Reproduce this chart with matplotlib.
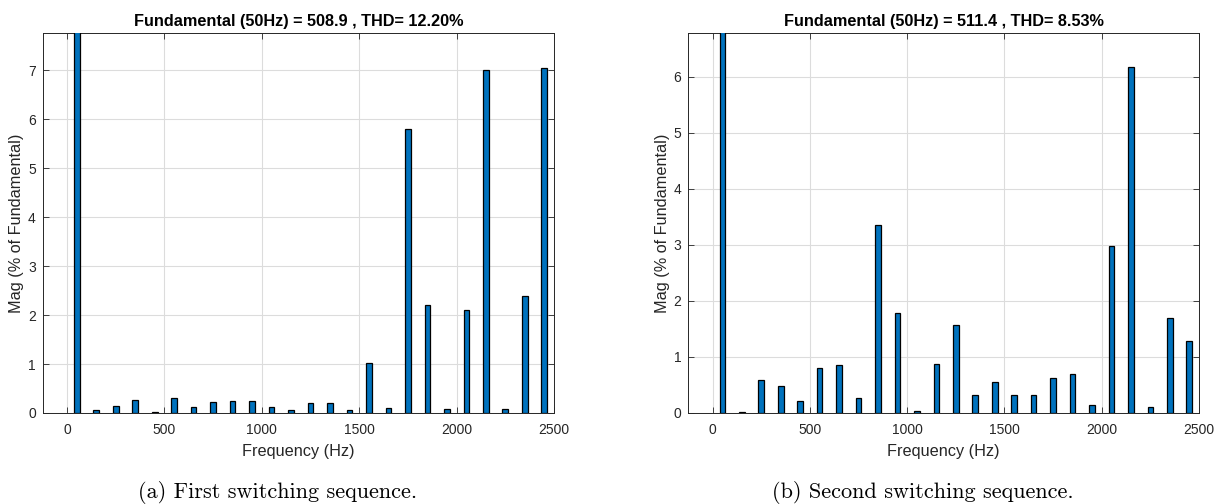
import numpy as np
import matplotlib
matplotlib.use('Agg')
import matplotlib.pyplot as plt

# harmonic frequencies (Hz) and magnitudes (% of fundamental)
freqs = [50, 150, 250, 350, 450, 550, 650, 750, 850, 950, 1050, 1150, 1250,
         1350, 1450, 1550, 1650, 1750, 1850, 1950, 2050, 2150, 2250, 2350, 2450]
mag_a = [100, 0.06, 0.14, 0.27, 0.03, 0.31, 0.13, 0.22, 0.25, 0.24, 0.13, 0.06, 0.21,
         0.20, 0.06, 1.02, 0.10, 5.80, 2.20, 0.09, 2.10, 7.00, 0.09, 2.39, 7.05]
mag_b = [100, 0.02, 0.59, 0.48, 0.22, 0.80, 0.86, 0.27, 3.36, 1.79, 0.04, 0.88, 1.58,
         0.33, 0.55, 0.33, 0.33, 0.62, 0.70, 0.14, 2.99, 6.17, 0.11, 1.69, 1.28]

titles = ['Fundamental (50Hz) = 508.9 , THD= 12.20%',
          'Fundamental (50Hz) = 511.4 , THD= 8.53%']
captions = ['(a) First switching sequence.', '(b) Second switching sequence.']
ymax = [7.76, 6.78]
yticks = [range(0, 8), range(0, 7)]

plt.rcParams['font.family'] = ['Liberation Sans', 'DejaVu Sans']
W, H = 1225, 504
fig = plt.figure(figsize=(W / 100, H / 100), dpi=100)

# axes boxes in pixels: left, right
boxes = [(42.7, 554.0), (688.3, 1199.0)]
top, bottom = 33.3, 413.0
cap_x = [278, 923]

for i, mags in enumerate([mag_a, mag_b]):
    x0, x1 = boxes[i]
    ax = fig.add_axes([x0 / W, 1 - bottom / H, (x1 - x0) / W, (bottom - top) / H])
    ax.bar(freqs, mags, width=29, color='#0072BD', edgecolor='black', linewidth=0.9, zorder=3)
    ax.set_xlim(-125, 2500)
    ax.set_ylim(0, ymax[i])
    ax.set_xticks(range(0, 2501, 500))
    ax.set_yticks(list(yticks[i]))
    ax.grid(True, color='#dcdcdc', linewidth=0.8, zorder=0)
    ax.tick_params(direction='in', top=True, right=True, length=4, width=0.6,
                   labelsize=10, colors='#262626')
    ax.tick_params(axis='x', pad=7)
    ax.tick_params(axis='y', pad=5)
    for s in ax.spines.values():
        s.set_color('#262626')
        s.set_linewidth(0.7)
    ax.set_title(titles[i], fontsize=11.7, fontweight='bold', pad=5)
    ax.set_xlabel('Frequency (Hz)', fontsize=11.7, color='#262626', va='center')
    ax.set_ylabel('Mag (% of Fundamental)', fontsize=11.7, color='#262626', va='center')
    ax.xaxis.set_label_coords(0.5, (bottom - 451.7) / (bottom - top))
    ax.yaxis.set_label_coords(-26 / (x1 - x0), 0.5)
    fig.text(cap_x[i] / W, 1 - 493 / H, captions[i], ha='center', va='center',
             fontsize=16, family=['cmr10', 'DejaVu Serif'])

fig.savefig('out.png', dpi=100)
